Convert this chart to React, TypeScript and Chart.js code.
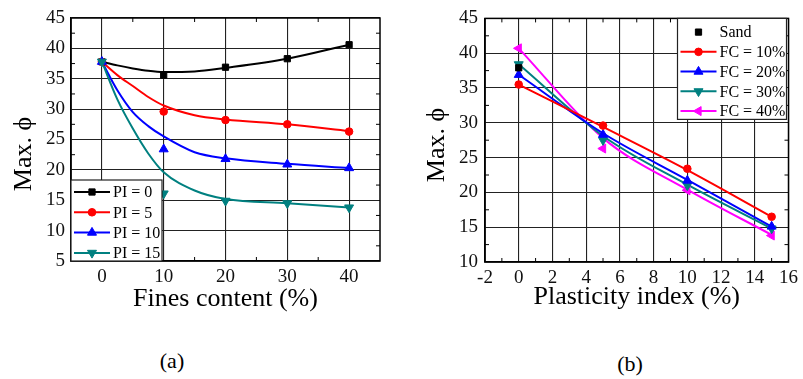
import React, { useEffect, useRef } from 'react';
import { Chart, registerables } from 'chart.js';

Chart.register(...registerables);

const FONT = "'Liberation Serif', 'Times New Roman', serif";

// ---------- (a) Max. phi vs fines content ----------
const xTicksA = [0, 10, 20, 30, 40];
const fcA = [0, 10, 20, 30, 40];
const pi0 = [37.8, 35.6, 36.9, 38.3, 40.6];
const pi5 = [37.8, 29.6, 28.2, 27.5, 26.3];
const pi10 = [37.8, 23.4, 21.8, 20.9, 20.3];
const pi15 = [37.8, 16.1, 14.9, 14.5, 13.8];
const fitXA = [0, 2.5, 5, 7.5, 10, 15, 20, 30, 40];
const fitPi0 = [37.8, 37.2, 36.7, 36.3, 36.1, 36.2, 36.8, 38.3, 40.6];
const fitPi5 = [37.8, 35.6, 33.8, 32.0, 30.6, 29.0, 28.3, 27.5, 26.4];
const fitPi10 = [37.8, 33.1, 29.5, 27.2, 25.5, 22.9, 21.9, 21.0, 20.3];
const fitPi15 = [37.8, 31.6, 26.8, 22.7, 19.6, 16.6, 15.2, 14.5, 13.8];
const labelsA = ['PI = 0', 'PI = 5', 'PI = 10', 'PI = 15'];
const minorXA = [5, 15, 25, 35];
const minorYA = [7.5, 12.5, 17.5, 22.5, 27.5, 32.5, 37.5, 42.5];

// ---------- (b) Max. phi vs plasticity index ----------
const piB = [0, 5, 10, 15];
const sandX = [0];
const sandY = [37.9];
const fc10 = [35.5, 29.6, 23.4, 16.5];
const fc20 = [36.9, 28.3, 21.7, 15.1];
const fc30 = [38.4, 27.5, 21.0, 14.8];
const fc40 = [40.7, 26.3, 20.3, 13.8];
const fitFc10 = [35.5, 29.4, 23.2, 16.5];
const fitFc20 = [36.9, 28.5, 21.8, 15.1];
const fitFc30 = [38.4, 28.1, 21.1, 14.8];
const fitFc40 = [40.7, 27.8, 20.4, 13.9];
const labelsB = ['Sand', 'FC = 10%', 'FC = 20%', 'FC = 30%', 'FC = 40%'];
const minorXB = [-1, 1, 3, 5, 7, 9, 11, 13, 15];
const minorYB = [12.5, 17.5, 22.5, 27.5, 32.5, 37.5, 42.5];

// ---------- styles ----------
const colorsA = ['#000000', '#ff0000', '#0000ff', '#008080'];
const stylesA = ['rect', 'circle', 'triangle', 'triangle'];
const rotA = [0, 0, 0, 180];
const radA = [4.4, 3.8, 5.2, 5.2];

const colorsB = ['#000000', '#ff0000', '#0000ff', '#008080', '#ff00ff'];
const stylesB = ['rect', 'circle', 'triangle', 'triangle', 'triangle'];
const rotB = [0, 0, 0, 180, 270];
const radB = [4.4, 3.8, 5.2, 5.2, 5.2];

function drawMarker(ctx: CanvasRenderingContext2D, style: string, x: number, y: number, r: number, rotDeg: number, color: string) {
  ctx.save();
  ctx.fillStyle = color;
  ctx.strokeStyle = color;
  ctx.lineWidth = 1;
  ctx.beginPath();
  if (style === 'rect') {
    const s = r * Math.SQRT1_2;
    ctx.rect(x - s, y - s, 2 * s, 2 * s);
  } else if (style === 'circle') {
    ctx.arc(x, y, r, 0, Math.PI * 2);
  } else {
    let rad = (rotDeg * Math.PI) / 180;
    for (let i = 0; i < 3; i++) {
      const px = x + Math.sin(rad) * r;
      const py = y - Math.cos(rad) * r;
      if (i === 0) ctx.moveTo(px, py);
      else ctx.lineTo(px, py);
      rad += (2 * Math.PI) / 3;
    }
    ctx.closePath();
  }
  ctx.fill();
  ctx.stroke();
  ctx.restore();
}

function line(ctx: CanvasRenderingContext2D, x1: number, y1: number, x2: number, y2: number) {
  ctx.beginPath();
  ctx.moveTo(x1, y1);
  ctx.lineTo(x2, y2);
  ctx.stroke();
}

type LegendCfg = {
  labels: string[];
  colors: string[];
  styles: string[];
  rots: number[];
  rads: number[];
  noLine: boolean[];
  box: (ca: any) => { x: number; y: number; w: number; h: number };
  rowY0: number;
  rowStep: number;
};

function makeDecor(minorX: number[], minorY: number[], yTitle: { x: number; y: number }, legend: LegendCfg) {
  return {
    id: 'decor',
    afterDraw(chart: any) {
      const { ctx, chartArea: ca, scales } = chart;
      ctx.save();
      // frame
      ctx.strokeStyle = '#000';
      ctx.lineWidth = 1.5;
      ctx.strokeRect(ca.left, ca.top, ca.right - ca.left, ca.bottom - ca.top);
      // minor ticks (inward)
      ctx.lineWidth = 1;
      minorX.forEach((v) => {
        const x = scales.x.getPixelForValue(v);
        line(ctx, x, ca.bottom, x, ca.bottom - 4);
        line(ctx, x, ca.top, x, ca.top + 4);
      });
      minorY.forEach((v) => {
        const y = scales.y.getPixelForValue(v);
        line(ctx, ca.left, y, ca.left + 4, y);
        line(ctx, ca.right, y, ca.right - 4, y);
      });
      // y title
      ctx.save();
      ctx.translate(yTitle.x, yTitle.y);
      ctx.rotate(-Math.PI / 2);
      ctx.fillStyle = '#000';
      ctx.font = `26px ${FONT}`;
      ctx.textAlign = 'center';
      ctx.textBaseline = 'middle';
      ctx.fillText('Max. ϕ', 0, 0);
      ctx.restore();
      // legend
      const b = legend.box(ca);
      ctx.fillStyle = '#fff';
      ctx.fillRect(b.x, b.y, b.w, b.h);
      ctx.strokeStyle = '#222';
      ctx.lineWidth = 1.2;
      ctx.strokeRect(b.x, b.y, b.w, b.h);
      ctx.font = `16px ${FONT}`;
      ctx.textAlign = 'left';
      ctx.textBaseline = 'middle';
      legend.labels.forEach((lab, i) => {
        const y = b.y + legend.rowY0 + i * legend.rowStep;
        const c = legend.colors[i];
        if (!legend.noLine[i]) {
          ctx.strokeStyle = c;
          ctx.lineWidth = 2;
          line(ctx, b.x + 3, y, b.x + 39, y);
        }
        drawMarker(ctx, legend.styles[i], b.x + 21, y, legend.rads[i], legend.rots[i], c);
        ctx.fillStyle = '#000';
        ctx.fillText(lab, b.x + 42, y + 1);
      });
      ctx.restore();
    },
  };
}

const gridOpts = { color: '#222', lineWidth: 1.1, drawTicks: false };
const borderOpts = { color: '#000', width: 1.5 };
const tickFont = { family: FONT, size: 19 };

function ChartA() {
  const ref = useRef<HTMLCanvasElement>(null);
  useEffect(() => {
    const series = [pi0, pi5, pi10, pi15];
    const fits = [fitPi0, fitPi5, fitPi10, fitPi15];
    const datasets: any[] = [];
    series.forEach((ys, i) => {
      datasets.push({
        label: labelsA[i],
        data: fcA.map((x, j) => ({ x, y: ys[j] })),
        showLine: false,
        pointStyle: stylesA[i],
        pointRotation: rotA[i],
        pointRadius: radA[i],
        pointBackgroundColor: colorsA[i],
        pointBorderColor: colorsA[i],
        pointBorderWidth: 1,
        order: 3 - i,
      });
    });
    fits.forEach((ys, i) => {
      datasets.push({
        data: fitXA.map((x, j) => ({ x, y: ys[j] })),
        showLine: true,
        borderColor: colorsA[i],
        borderWidth: 2,
        pointRadius: 0,
        cubicInterpolationMode: 'monotone',
        order: 13 - i,
      });
    });
    const chart = new Chart(ref.current!, {
      type: 'scatter',
      data: { datasets },
      options: {
        responsive: false,
        animation: false,
        events: [],
        layout: { padding: { top: 18, right: 20, left: 0, bottom: 0 } },
        plugins: { legend: { display: false }, tooltip: { enabled: false } },
        scales: {
          x: {
            type: 'linear',
            min: -5,
            max: 45,
            afterBuildTicks: (s: any) => {
              s.ticks = xTicksA.map((v) => ({ value: v }));
            },
            afterFit: (s: any) => {
              s.height = 59;
            },
            grid: gridOpts,
            border: borderOpts,
            ticks: { padding: 5, font: tickFont, color: '#111' },
            title: {
              display: true,
              text: 'Fines content (%)',
              color: '#000',
              font: { family: FONT, size: 26, lineHeight: 1.2 },
              padding: { top: 0, bottom: 5 },
            },
          },
          y: {
            type: 'linear',
            min: 5,
            max: 45,
            afterFit: (s: any) => {
              s.width = 71;
            },
            grid: gridOpts,
            border: borderOpts,
            ticks: { stepSize: 5, padding: 6, font: tickFont, color: '#111' },
          },
        },
      },
      plugins: [
        makeDecor(minorXA, minorYA, { x: 24, y: 154 }, {
          labels: labelsA,
          colors: colorsA,
          styles: stylesA,
          rots: rotA,
          rads: radA,
          noLine: [false, false, false, false],
          box: (ca: any) => ({ x: ca.left, y: ca.bottom - 81, w: 91, h: 81 }),
          rowY0: 12,
          rowStep: 20.3,
        }),
      ],
    } as any);
    return () => chart.destroy();
  }, []);
  return <canvas ref={ref} width={400} height={320} style={{ position: 'absolute', left: 0, top: 0 }} />;
}

function ChartB() {
  const ref = useRef<HTMLCanvasElement>(null);
  useEffect(() => {
    const series = [fc10, fc20, fc30, fc40];
    const fits = [fitFc10, fitFc20, fitFc30, fitFc40];
    const datasets: any[] = [];
    datasets.push({
      label: labelsB[0],
      data: sandX.map((x, j) => ({ x, y: sandY[j] })),
      showLine: false,
      pointStyle: stylesB[0],
      pointRadius: radB[0],
      pointBackgroundColor: colorsB[0],
      pointBorderColor: colorsB[0],
      pointBorderWidth: 1,
      order: 0,
    });
    series.forEach((ys, k) => {
      const i = k + 1;
      datasets.push({
        label: labelsB[i],
        data: piB.map((x, j) => ({ x, y: ys[j] })),
        showLine: false,
        pointStyle: stylesB[i],
        pointRotation: rotB[i],
        pointRadius: radB[i],
        pointBackgroundColor: colorsB[i],
        pointBorderColor: colorsB[i],
        pointBorderWidth: 1,
        order: 1 + k,
      });
    });
    fits.forEach((ys, k) => {
      const i = k + 1;
      datasets.push({
        data: piB.map((x, j) => ({ x, y: ys[j] })),
        showLine: true,
        borderColor: colorsB[i],
        borderWidth: 2,
        pointRadius: 0,
        cubicInterpolationMode: 'monotone',
        order: 10 + k,
      });
    });
    const chart = new Chart(ref.current!, {
      type: 'scatter',
      data: { datasets },
      options: {
        responsive: false,
        animation: false,
        events: [],
        layout: { padding: { top: 18, right: 10, left: 0, bottom: 0 } },
        plugins: { legend: { display: false }, tooltip: { enabled: false } },
        scales: {
          x: {
            type: 'linear',
            min: -2,
            max: 16,
            afterFit: (s: any) => {
              s.height = 58;
            },
            grid: gridOpts,
            border: borderOpts,
            ticks: { stepSize: 2, padding: 5, font: tickFont, color: '#111' },
            title: {
              display: true,
              text: 'Plasticity index (%)',
              color: '#000',
              font: { family: FONT, size: 26, lineHeight: 1.2 },
              padding: { top: 0, bottom: 7 },
            },
          },
          y: {
            type: 'linear',
            min: 10,
            max: 45,
            afterFit: (s: any) => {
              s.width = 85;
            },
            grid: gridOpts,
            border: borderOpts,
            ticks: { stepSize: 5, padding: 7, font: tickFont, color: '#111' },
          },
        },
      },
      plugins: [
        makeDecor(minorXB, minorYB, { x: 37, y: 145 }, {
          labels: labelsB,
          colors: colorsB,
          styles: stylesB,
          rots: rotB,
          rads: radB,
          noLine: [true, false, false, false, false],
          box: (ca: any) => ({ x: ca.right - 111, y: ca.top, w: 109, h: 101 }),
          rowY0: 13.7,
          rowStep: 19.75,
        }),
      ],
    } as any);
    return () => chart.destroy();
  }, []);
  return <canvas ref={ref} width={403} height={320} style={{ position: 'absolute', left: 400, top: 0 }} />;
}

const captionStyle: React.CSSProperties = {
  position: 'absolute',
  fontFamily: FONT,
  fontSize: 22,
  lineHeight: '22px',
  color: '#000',
  transform: 'translate(-50%, -50%)',
  whiteSpace: 'nowrap',
};

export default function App() {
  return (
    <div
      style={{
        position: 'fixed',
        left: 0,
        top: 0,
        width: 803,
        height: 379,
        background: '#fff',
        overflow: 'hidden',
      }}
    >
      <ChartA />
      <ChartB />
      <div style={{ ...captionStyle, left: 172, top: 361 }}>(a)</div>
      <div style={{ ...captionStyle, left: 630, top: 364 }}>(b)</div>
    </div>
  );
}
